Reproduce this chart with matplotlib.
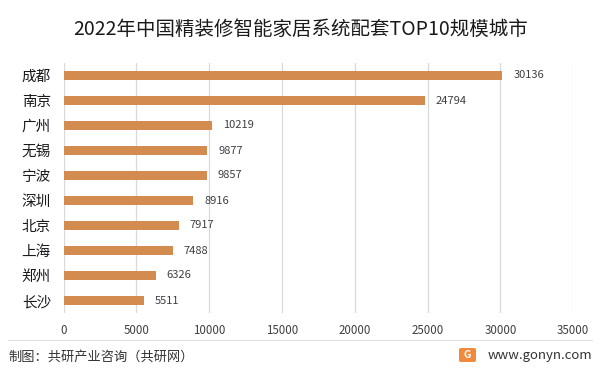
import matplotlib
matplotlib.use('Agg')
import matplotlib.pyplot as plt
from matplotlib.patches import FancyBboxPatch
from matplotlib.lines import Line2D

plt.rcParams['font.family'] = ['Noto Sans CJK SC', 'DejaVu Sans']

title = '2022年中国精装修智能家居系统配套TOP10规模城市'
cities = ['成都', '南京', '广州', '无锡', '宁波', '深圳', '北京', '上海', '郑州', '长沙']
values = [30136, 24794, 10219, 9877, 9857, 8916, 7917, 7488, 6326, 5511]
xticks = [0, 5000, 10000, 15000, 20000, 25000, 30000, 35000]

bar_color = '#D38B4F'
W, H = 601, 374

fig = plt.figure(figsize=(W / 100, H / 100), dpi=100)
ax = fig.add_axes([63.5 / W, 1 - 313 / H, (573.3 - 63.5) / W, 250 / H])

ypos = list(range(len(cities)))
ax.barh(ypos, values, height=0.34, color=bar_color, zorder=3)
for y, v in zip(ypos, values):
    ax.text(v + 750, y, str(v), va='center', ha='left', fontsize=8, color='#404040')

ax.set_xlim(0, 35000)
ax.set_ylim(9.5, -0.5)
ax.set_xticks(xticks)
ax.set_xticklabels([str(t) for t in xticks], fontsize=8.3, color='#404040')
ax.set_yticks(ypos)
ax.set_yticklabels(cities, fontsize=10.5, color='#1a1a1a')
ax.tick_params(axis='both', length=0)
ax.tick_params(axis='x', pad=8)
ax.tick_params(axis='y', pad=9)
ax.grid(axis='x', color='#D9D9D9', linewidth=0.9, zorder=0)
for s in ax.spines.values():
    s.set_visible(False)

fig.text(0.5, 1 - 29 / H, title, ha='center', va='center', fontsize=14, color='#1a1a1a')

fig.add_artist(Line2D([8 / W, 592 / W], [1 - 340 / H, 1 - 340 / H],
                      color='#E0E0E0', linewidth=0.8, transform=fig.transFigure))
fig.text(8 / W, 1 - 357 / H, '制图：共研产业咨询（共研网）', ha='left', va='center',
         fontsize=9.5, color='#333333')

# small logo + site
logo = FancyBboxPatch((459 / W, 1 - 362 / H), 17 / W, 14 / H,
                      boxstyle='round,pad=0,rounding_size=0.004',
                      facecolor='#F08A3C', edgecolor='none', transform=fig.transFigure)
fig.add_artist(logo)
fig.text(467.5 / W, 1 - 355 / H, 'G', ha='center', va='center', fontsize=7.5,
         fontweight='bold', color='white')
fig.text(592 / W, 1 - 355 / H, 'www.gonyn.com', ha='right', va='center',
         fontsize=9.5, color='#333333')

fig.savefig('out.png', dpi=100)
